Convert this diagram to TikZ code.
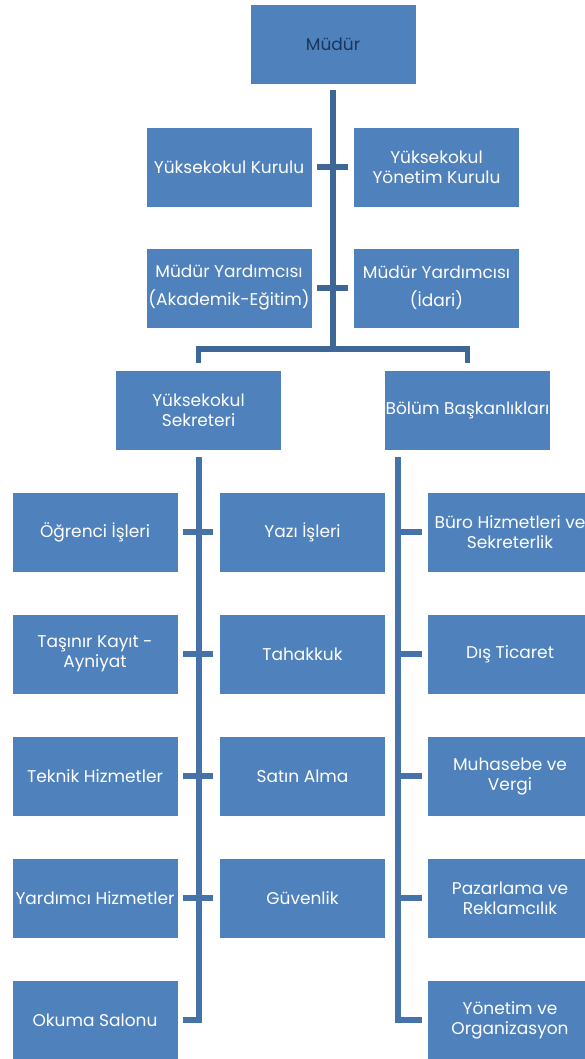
\documentclass[tikz,border=0pt]{standalone}
\usepackage{fontspec}
\setmainfont{Poppins}
\definecolor{boxblue}{HTML}{4F81BD}
\definecolor{topline}{HTML}{3C6797}
\definecolor{lowline}{HTML}{4572A9}
\definecolor{navy}{HTML}{17365D}
\tikzset{
  box/.style={rectangle, fill=boxblue, draw=white, line width=0.8pt,
    minimum width=166pt, minimum height=80pt, inner sep=0pt, align=center,
    text=white, font=\fontsize{17}{20}\selectfont},
  widebox/.style={box, font=\fontsize{17}{28}\selectfont},
  contop/.style={draw=topline, line width=5.5pt},
  conlow/.style={draw=lowline, line width=6pt}
}
\begin{document}
\begin{tikzpicture}[x=1pt,y=-1pt]
\useasboundingbox (0,0) rectangle (584,1059);
% top part
\node[box, text=navy] (mudur) at (333,44) {Müdür};
\node[box] (yk) at (229,167) {Yüksekokul Kurulu};
\node[box] (ykyk) at (436.5,167) {Yüksekokul\\Yönetim Kurulu};
\node[widebox] (my1) at (229,288) {Müdür Yardımcısı\\(Akademik-Eğitim)};
\node[widebox] (my2) at (436.5,288) {Müdür Yardımcısı\\(İdari)};
\node[box] (sek) at (198.5,410) {Yüksekokul\\Sekreteri};
\node[box] (bol) at (467.5,410) {Bölüm Başkanlıkları};
% left column
\node[box] (l1) at (95,532) {Öğrenci İşleri};
\node[box] (l2) at (95,654) {Taşınır Kayıt -\\Ayniyat};
\node[box] (l3) at (95,776) {Teknik Hizmetler};
\node[box] (l4) at (95,898) {Yardımcı Hizmetler};
\node[box] (l5) at (95,1020) {Okuma Salonu};
% middle column
\node[box] (m1) at (302.5,532) {Yazı İşleri};
\node[box] (m2) at (302.5,654) {Tahakkuk};
\node[box] (m3) at (302.5,776) {Satın Alma};
\node[box] (m4) at (302.5,898) {Güvenlik};
% right column
\node[box] (r1) at (510,532) {Büro Hizmetleri ve\\Sekreterlik};
\node[box] (r2) at (510,654) {Dış Ticaret};
\node[box] (r3) at (510,776) {Muhasebe ve\\Vergi};
\node[box] (r4) at (510,898) {Pazarlama ve\\Reklamcılık};
\node[box] (r5) at (510,1020) {Yönetim ve\\Organizasyon};
% connectors top
\coordinate (hub) at (333,349);
\draw[contop] ([yshift=-6pt]mudur.south) -- (hub);
\draw[contop] ([yshift=7pt]sek.north) |- (hub) -| ([yshift=7pt]bol.north);
\draw[contop] ([xshift=5pt]yk.east) -- ([xshift=-5pt]ykyk.west);
\draw[contop] ([xshift=5pt]my1.east) -- ([xshift=-5pt]my2.west);
% connectors lower left
\draw[conlow] ([yshift=-7pt]sek.south) |- ([xshift=5pt]l5.east);
\foreach \i in {1,...,4}{
  \draw[conlow] ([xshift=5pt]l\i.east) -- ([xshift=-6pt]m\i.west);
}
% connectors lower right
\coordinate (rv) at ([xshift=14pt,yshift=-7pt]bol.south west);
\draw[conlow] (rv) |- ([xshift=-5pt]r5.west);
\foreach \i in {1,...,4}{
  \draw[conlow] (rv |- r\i.west) -- ([xshift=-5pt]r\i.west);
}
\end{tikzpicture}
\end{document}
